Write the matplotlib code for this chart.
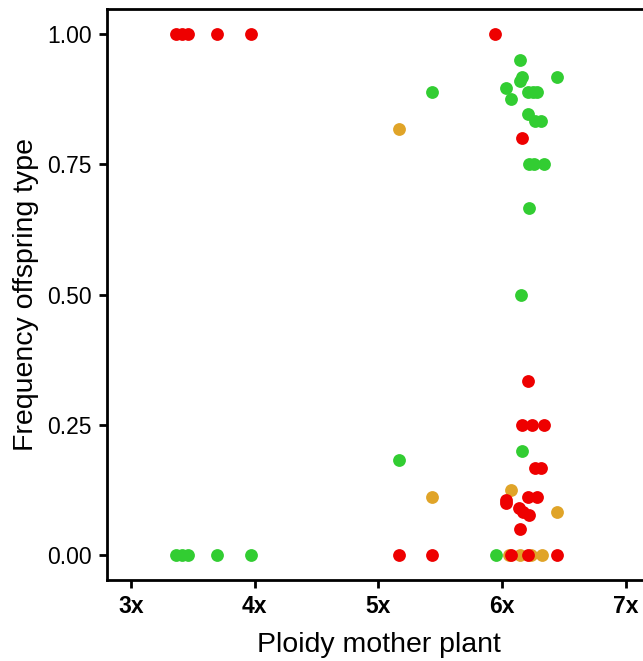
import numpy as np
import matplotlib.pyplot as plt

plt.rcParams['font.family'] = ['Liberation Sans', 'DejaVu Sans']

# offspring type frequencies per mother plant (ploidy on x, jittered)
red_x = [3.364, 3.412, 3.461, 3.695, 3.970, 5.943,
         5.167, 5.433,
         6.21, 6.16, 6.24, 6.336, 6.266, 6.314, 6.21, 6.28,
         6.029, 6.029, 6.14, 6.17, 6.216, 6.147, 6.16,
         6.07, 6.212, 6.446]
red_y = [1.0, 1.0, 1.0, 1.0, 1.0, 1.0,
         0.0, 0.0,
         1/3, 0.25, 0.25, 0.25, 1/6, 1/6, 1/9, 1/9,
         0.105, 0.099, 1/11, 1/12, 0.077, 0.05, 0.8,
         0.0, 0.0, 0.0]

green_x = [3.364, 3.412, 3.461, 3.695, 3.970,
           5.433, 5.167,
           6.147, 6.16, 6.145, 6.446, 6.03, 6.07, 6.21, 6.25, 6.28,
           6.21, 6.266, 6.314, 6.217, 6.258, 6.339, 6.215, 6.153,
           6.16, 5.95]
green_y = [0.0, 0.0, 0.0, 0.0, 0.0,
           8/9, 2/11,
           0.95, 0.917, 0.909, 0.917, 0.897, 0.875, 8/9, 8/9, 8/9,
           0.846, 0.833, 0.833, 0.75, 0.75, 0.75, 2/3, 0.5,
           0.2, 0.0]

orange_x = [5.167, 5.433, 6.07, 6.446, 6.056, 6.145, 6.234, 6.323]
orange_y = [9/11, 1/9, 0.125, 1/12, 0.0, 0.0, 0.0, 0.0]

ticks_x = [3, 4, 5, 6, 7]
ticklabels_x = ['3x', '4x', '5x', '6x', '7x']
ticks_y = [0.0, 0.25, 0.5, 0.75, 1.0]

fig = plt.figure(figsize=(6.43, 6.61), dpi=100)
ax = fig.add_axes([0.1664, 0.1225, 0.8453, 0.8639])

ax.scatter(orange_x, orange_y, s=85, color='#E0A428', linewidths=0, zorder=3)
ax.scatter(green_x, green_y, s=85, color='#32CD32', linewidths=0, zorder=3)
ax.scatter(red_x, red_y, s=85, color='#EE0000', linewidths=0, zorder=3)

ax.set_xlim(2.806, 7.2)
ax.set_ylim(-0.048, 1.048)
ax.set_xticks(ticks_x)
ax.set_xticklabels(ticklabels_x, fontweight='bold')
ax.set_yticks(ticks_y)
ax.set_yticklabels(['%.2f' % v for v in ticks_y])

for sp in ax.spines.values():
    sp.set_linewidth(2.0)
ax.tick_params(axis='both', length=6, width=2.0, labelsize=16.5, pad=5)

ax.set_xlabel('Ploidy mother plant', fontsize=20.5, labelpad=10)
ax.set_ylabel('Frequency offspring type', fontsize=20.5, labelpad=6)

fig.savefig('out.png', dpi=100)
